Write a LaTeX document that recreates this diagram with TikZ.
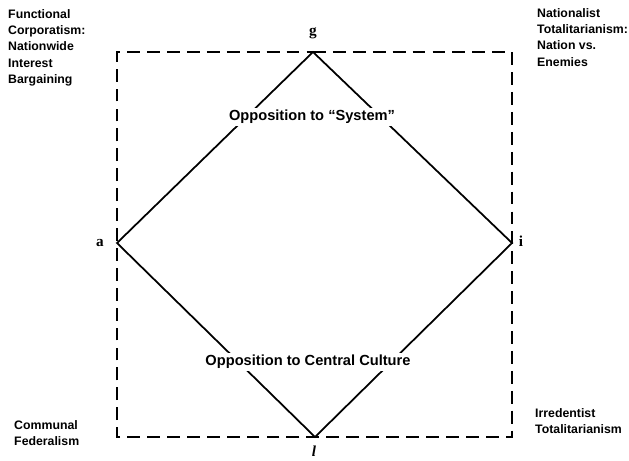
\documentclass[tikz,border=0pt]{standalone}
\usepackage{fontspec}
\setmainfont{Liberation Serif}
\setsansfont{Liberation Sans}
\usetikzlibrary{arrows,calc,positioning}

\begin{document}
\begin{tikzpicture}[x=0.03cm,y=-0.03cm]
        \tikzset{frame_edge/.style = {line width=2pt,dash pattern=on 11pt off 6pt,color=black}}
        \tikzset{diag_edge/.style = {line width=1.5pt,color=black}}
        \tikzset{corner_text/.style = {font=\sffamily\bfseries\fontsize{10.5}{14}\selectfont,align=left,inner sep=0pt}}
        \tikzset{vertex_text/.style = {font=\rmfamily\bfseries\fontsize{13}{14}\selectfont,inner sep=1pt}}
        \tikzset{oppo_text/.style = {font=\sffamily\bfseries\fontsize{12.5}{14}\selectfont,fill=white,inner sep=2pt}}

        \useasboundingbox (0,0) rectangle (629,461);

        % vertices of the diamond
        \coordinate (g) at (313,52);
        \coordinate (a) at (117,243);
        \coordinate (i) at (512,243);
        \coordinate (l) at (315,437);

        \draw[frame_edge] (g) -| (i) |- (l) -| (a) |- (g);
        \draw[diag_edge] (g) -- (i) -- (l) -- (a) -- cycle;

        \node[vertex_text] (g_lbl) at (313,33) {g};
        \node[vertex_text] (a_lbl) at (100,243) {a};
        \node[vertex_text] (i_lbl) at (521,241) {i};
        \node[vertex_text,font=\rmfamily\bfseries\itshape\fontsize{13}{14}\selectfont] (l_lbl) at (314,451) {l};

        \node[oppo_text] (sys) at (312,117) {Opposition to ``System''};
        \node[oppo_text] (cult) at (308,362) {Opposition to Central Culture};

        \node[corner_text,anchor=north west] (fc) at (8,9) {Functional\\Corporatism:\\Nationwide\\Interest\\Bargaining};
        \node[corner_text,anchor=north west] (nt) at (537,8) {Nationalist\\Totalitarianism:\\Nation vs.\\Enemies};
        \node[corner_text,anchor=north west] (cf) at (14,420) {Communal\\Federalism};
        \node[corner_text,anchor=north west] (it) at (535,408) {Irredentist\\Totalitarianism};
    \end{tikzpicture}
\end{document}
